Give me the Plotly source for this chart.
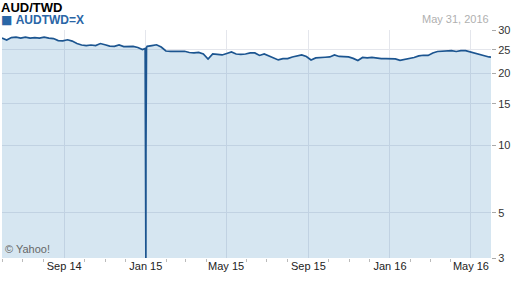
import numpy as np
import pandas as pd
import plotly.graph_objects as go

# ---- data ----
start_date = "2014-05-31"
weekly_values = [
    27.86, 27.35, 27.99, 28.12, 27.86, 28.12, 27.86, 27.99, 27.86, 28.12,
    27.86, 27.73, 27.22, 27.17, 27.43, 27.10, 26.48, 26.12, 25.99, 26.12,
    25.99, 26.48, 26.18, 25.87, 25.80, 26.12, 25.75, 25.80, 25.80, 25.52,
    25.04,
    25.80, 25.99, 26.18, 25.64, 24.70, 24.63, 24.58, 24.70, 24.63, 24.36,
    24.25, 24.36, 24.02, 22.90, 24.02, 23.95, 23.80, 24.13, 24.47, 24.02,
    23.91, 24.02, 24.25, 24.25, 23.69, 24.02, 23.58, 23.14, 22.72, 22.99,
    22.99, 23.36, 23.58, 23.80, 23.47, 22.72, 23.14, 23.30, 23.30, 23.36,
    23.80, 23.47, 23.36, 23.36, 23.04, 22.61, 23.25, 23.14, 23.25, 23.04,
    22.99, 22.99, 23.04, 22.93, 22.61, 22.79, 22.93, 23.25, 23.58, 23.73,
    23.69, 24.25, 24.58, 24.63, 24.70, 24.77, 24.58, 24.77, 24.77, 24.47,
    24.13, 23.80, 23.58, 23.36,
]
# bad quotes around the new year 2015 (the spike)
spike_dates = ["2014-12-31 00:00", "2015-01-01 00:00", "2015-01-01 02:00", "2015-01-01 04:00", "2015-01-02 00:00"]
spike_values = [25.30, 9.20, 3.00, 9.20, 25.50]
last_date = "2016-05-31"
last_value = 23.30

y_ticks = [3, 5, 10, 15, 20, 25, 30]
x_tick_start = "2014-09-01"
series_name = "AUDTWD=X"
title = "AUD/TWD"
date_label = "May 31, 2016"

# ---- assemble series ----
weekly_dates = pd.date_range(start_date, periods=len(weekly_values), freq="7D")
s = pd.Series(weekly_values, index=weekly_dates)
s = pd.concat([s,
               pd.Series(spike_values, index=pd.to_datetime(spike_dates, format="%Y-%m-%d %H:%M")),
               pd.Series([last_value], index=pd.to_datetime([last_date], format="%Y-%m-%d"))]).sort_index()

# Yahoo's scale is logarithmic in (value + 1)
def tr(v):
    return np.log10(np.asarray(v, dtype=float) + 1.0)

LINE = "#1c5590"
FONT = "Arial, Liberation Sans, sans-serif"

fig = go.Figure()
fig.add_trace(go.Scatter(
    x=s.index, y=tr(s.values), mode="lines",
    line=dict(color=LINE, width=1.7),
    fill="tozeroy", fillcolor="rgba(70,140,190,0.22)",
    name=series_name, showlegend=False, hoverinfo="skip",
))

fig.update_layout(
    width=512, height=288,
    margin=dict(l=2, r=21, t=30, b=30),
    paper_bgcolor="white", plot_bgcolor="white",
    font=dict(family=FONT, size=11, color="#333333"),
    xaxis=dict(
        type="date", range=[start_date, last_date],
        tick0=x_tick_start, dtick="M4", tickformat="%b %y",
        showgrid=True, gridcolor="#e4e6ec", gridwidth=1,
        ticks="", showline=False, zeroline=False,
        tickfont=dict(size=11, color="#222222"),
        minor=dict(dtick="M1", tick0=x_tick_start, ticks="outside", ticklen=3,
                   tickcolor="#bbbbbb", showgrid=False),
    ),
    yaxis=dict(
        side="right", range=[float(tr(3)), float(tr(30)) + 0.0005],
        tickvals=list(tr(y_ticks)), ticktext=[str(t) for t in y_ticks],
        showgrid=True, gridcolor="#e4e6ec", gridwidth=1,
        ticks="outside", ticklen=4, tickcolor="#aaaaaa",
        zeroline=False, showline=False,
        tickfont=dict(size=11, color="#333333"),
    ),
)

# title, legend key, date and credit
fig.add_annotation(text="<b>" + title + "</b>", xref="paper", yref="paper",
                   x=0, y=(258 - 7) / 228, xanchor="left", yanchor="middle",
                   xshift=-2, borderpad=0, showarrow=False,
                   font=dict(size=13, color="#000000", family=FONT))
fig.add_annotation(text="<span style='font-family:DejaVu Sans;font-size:12px'>■</span> <b>" + series_name + "</b>",
                   xref="paper", yref="paper",
                   x=0, y=(258 - 19.5) / 228, xanchor="left", yanchor="middle",
                   xshift=-2, borderpad=0, showarrow=False,
                   font=dict(size=12, color="#2a66a6", family=FONT))
fig.add_annotation(text=date_label, xref="paper", yref="paper",
                   x=1, y=(258 - 19) / 228, xanchor="right", yanchor="middle",
                   xshift=0, showarrow=False, font=dict(size=11, color="#b0b0b0", family=FONT))
fig.add_annotation(text="© Yahoo!", xref="paper", yref="paper",
                   x=0, y=(258 - 249) / 228, xanchor="left", yanchor="middle",
                   xshift=1, showarrow=False, font=dict(size=11, color="#666666", family=FONT))

fig.write_html("out.html")
